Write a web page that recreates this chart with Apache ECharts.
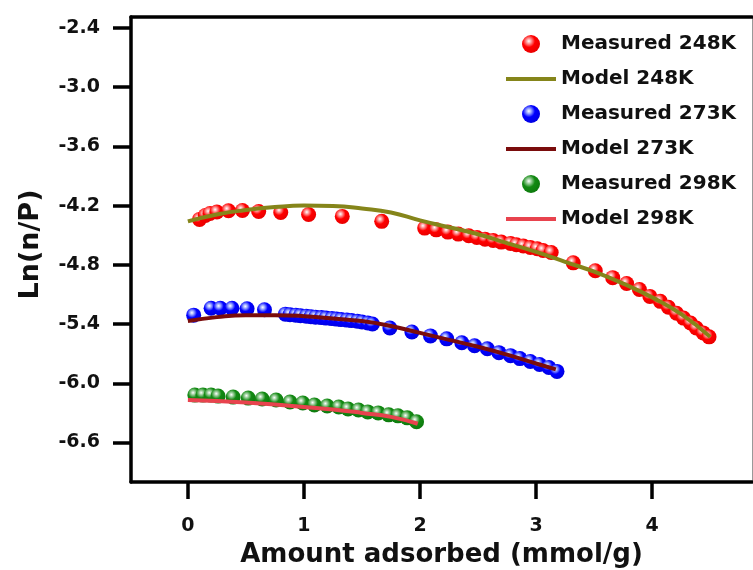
<!DOCTYPE html>
<html>
<head>
<meta charset="utf-8">
<script src="https://cdn.jsdelivr.net/npm/echarts@6/dist/echarts.min.js"></script>
<style>
html,body{margin:0;padding:0;background:#fff;}
#chart{width:753px;height:570px;}
</style>
</head>
<body>
<div id="chart"></div>
<script>
// ---- data ----
const seriesNames = ['Measured 248K','Model 248K','Measured 273K','Model 273K','Measured 298K','Model 298K'];
const xTicks = [0,1,2,3,4];
const yTicks = [-6.6,-6.0,-5.4,-4.8,-4.2,-3.6,-3.0,-2.4];

const meas248X = [0.10,0.15,0.19,0.25,0.35,0.47,0.61,0.80,1.04,1.33,1.67,
  2.04,2.14,2.24,2.33,2.42,2.49,2.56,2.63,2.70,2.78,2.83,2.89,2.95,3.01,3.06,3.13,
  3.32,3.51,3.66,3.78,3.89,3.98,4.07,4.14,4.21,4.27,4.33,4.38,4.44,4.49];
const meas248Y = [-4.34,-4.30,-4.28,-4.265,-4.253,-4.25,-4.26,-4.27,-4.29,-4.31,-4.36,
  -4.428,-4.446,-4.469,-4.489,-4.506,-4.523,-4.540,-4.554,-4.570,-4.584,-4.597,-4.610,-4.625,-4.638,-4.655,-4.675,
  -4.78,-4.86,-4.93,-4.99,-5.05,-5.12,-5.17,-5.23,-5.29,-5.34,-5.39,-5.44,-5.49,-5.53];

const model248X = [0,0.25,0.5,0.75,1.0,1.25,1.5,1.75,2.0,2.25,2.5,2.75,3.0,3.25,3.5,3.75,4.0,4.25,4.5];
const model248Y = [-4.36,-4.29,-4.245,-4.215,-4.20,-4.205,-4.23,-4.27,-4.35,-4.42,-4.49,-4.58,-4.67,-4.77,-4.87,-4.99,-5.13,-5.30,-5.53];

const meas273X = [0.05,0.20,0.28,0.38,0.51,0.66,
  0.84,0.88,0.93,0.97,1.02,1.06,1.10,1.15,1.19,1.24,1.28,1.32,1.37,1.41,1.46,1.50,1.55,1.59,
  1.74,1.93,2.09,2.23,2.36,2.47,2.58,2.68,2.78,2.86,2.95,3.03,3.11,3.18];
const meas273Y = [-5.31,-5.24,-5.24,-5.24,-5.245,-5.255,
  -5.30,-5.305,-5.31,-5.315,-5.32,-5.325,-5.33,-5.335,-5.34,-5.345,-5.35,-5.355,-5.36,-5.365,-5.372,-5.38,-5.39,-5.40,
  -5.44,-5.48,-5.52,-5.55,-5.59,-5.62,-5.65,-5.69,-5.72,-5.75,-5.78,-5.81,-5.84,-5.88];

const model273X = [0,0.25,0.5,0.75,1.0,1.25,1.5,1.75,2.0,2.25,2.5,2.75,3.0,3.17];
const model273Y = [-5.37,-5.33,-5.31,-5.31,-5.32,-5.345,-5.37,-5.42,-5.49,-5.56,-5.63,-5.71,-5.80,-5.86];

const meas298X = [0.06,0.13,0.20,0.26,0.39,0.52,0.64,0.76,0.88,0.99,1.09,1.20,1.30,1.38,1.47,1.55,1.64,1.73,1.81,1.89,1.97];
const meas298Y = [-6.12,-6.12,-6.12,-6.13,-6.14,-6.15,-6.16,-6.17,-6.19,-6.20,-6.22,-6.23,-6.24,-6.26,-6.27,-6.29,-6.30,-6.32,-6.33,-6.35,-6.39];

const model298X = [0,0.25,0.5,0.75,1.0,1.25,1.5,1.75,1.98];
const model298Y = [-6.17,-6.18,-6.195,-6.215,-6.24,-6.265,-6.30,-6.34,-6.41];

// ---- build ----
const zip = (xs, ys) => xs.map((x, i) => [x, ys[i]]);
const FONT = 'DejaVu Sans';

function sphere(light, base, dark) {
  return {
    type: 'radial', x: 0.38, y: 0.34, r: 0.68,
    colorStops: [
      {offset: 0, color: '#ffffff'},
      {offset: 0.2, color: light},
      {offset: 0.5, color: base},
      {offset: 1, color: dark}
    ]
  };
}

function scatter(name, data, grad) {
  return {
    name, type: 'scatter', data, symbol: 'circle', symbolSize: 15,
    itemStyle: {color: grad, opacity: 1},
    z: 2
  };
}
function model(name, data, color) {
  return {
    name, type: 'line', data, smooth: true, symbol: 'none', showSymbol: false,
    lineStyle: {color, width: 4}, itemStyle: {color}, z: 3
  };
}

const c248 = sphere('#ff9a9a', '#ff0000', '#e80000');
const c273 = sphere('#9aa8ff', '#0000ff', '#0000e0');
const c298 = sphere('#9ccf9c', '#138a13', '#0d7a0d');

const xMin = -0.49, xMax = 4.86, yMin = -7.0, yMax = -2.29;

const lineLegend = name => ({name, lineStyle: {width: 4}, itemStyle: {opacity: 0}});

const chart = echarts.init(document.getElementById('chart'), null, {renderer: 'canvas'});
chart.setOption({
  animation: false,
  backgroundColor: '#fff',
  grid: {left: 131, top: 17, width: 621, height: 465, containLabel: false, outerBoundsMode: 'none'},
  legend: {
    orient: 'vertical', left: 504, top: 34, padding: 0,
    itemWidth: 50, itemHeight: 18, itemGap: 15,
    textStyle: {fontFamily: FONT, fontWeight: 'bold', fontSize: 20, color: '#111'},
    data: [
      {name: seriesNames[0]},
      lineLegend(seriesNames[1]),
      {name: seriesNames[2]},
      lineLegend(seriesNames[3]),
      {name: seriesNames[4]},
      lineLegend(seriesNames[5])
    ]
  },
  xAxis: [{
    type: 'value', min: xMin, max: xMax, position: 'bottom',
    name: 'Amount adsorbed (mmol/g)', nameLocation: 'middle', nameGap: 60,
    nameTextStyle: {fontFamily: FONT, fontWeight: 'bold', fontSize: 26, color: '#111'},
    axisLine: {show: true, onZero: false, lineStyle: {color: '#000', width: 3.5}},
    axisTick: {show: true, inside: false, length: 17, customValues: xTicks, lineStyle: {color: '#000', width: 3.5}},
    axisLabel: {show: true, margin: 35, customValues: xTicks, formatter: v => String(v),
      fontFamily: FONT, fontWeight: 'bold', fontSize: 19, color: '#111'},
    splitLine: {show: false}
  }, {
    type: 'value', min: xMin, max: xMax, position: 'top',
    axisLine: {show: true, onZero: false, lineStyle: {color: '#000', width: 3.5}},
    axisTick: {show: false}, axisLabel: {show: false}, splitLine: {show: false}
  }],
  yAxis: [{
    type: 'value', min: yMin, max: yMax, position: 'left',
    name: 'Ln(n/P)', nameLocation: 'middle', nameGap: 87,
    nameTextStyle: {fontFamily: FONT, fontWeight: 'bold', fontSize: 27, color: '#111', padding: [0, 0, 0, 10]},
    axisLine: {show: true, onZero: false, lineStyle: {color: '#000', width: 3.5}},
    axisTick: {show: true, inside: false, length: 18, customValues: yTicks, lineStyle: {color: '#000', width: 3.5}},
    axisLabel: {show: true, margin: 31, customValues: yTicks, formatter: v => v.toFixed(1),
      fontFamily: FONT, fontWeight: 'bold', fontSize: 19, color: '#111'},
    splitLine: {show: false}
  }, {
    type: 'value', min: yMin, max: yMax, position: 'right',
    axisLine: {show: true, onZero: false, lineStyle: {color: '#999', width: 1}},
    axisTick: {show: false}, axisLabel: {show: false}, splitLine: {show: false}
  }],
  series: [
    scatter(seriesNames[0], zip(meas248X, meas248Y), c248),
    model(seriesNames[1], zip(model248X, model248Y), '#85851a'),
    scatter(seriesNames[2], zip(meas273X, meas273Y), c273),
    model(seriesNames[3], zip(model273X, model273Y), '#7a0c0c'),
    scatter(seriesNames[4], zip(meas298X, meas298Y), c298),
    model(seriesNames[5], zip(model298X, model298Y), '#e8434e')
  ]
});
</script>
</body>
</html>
